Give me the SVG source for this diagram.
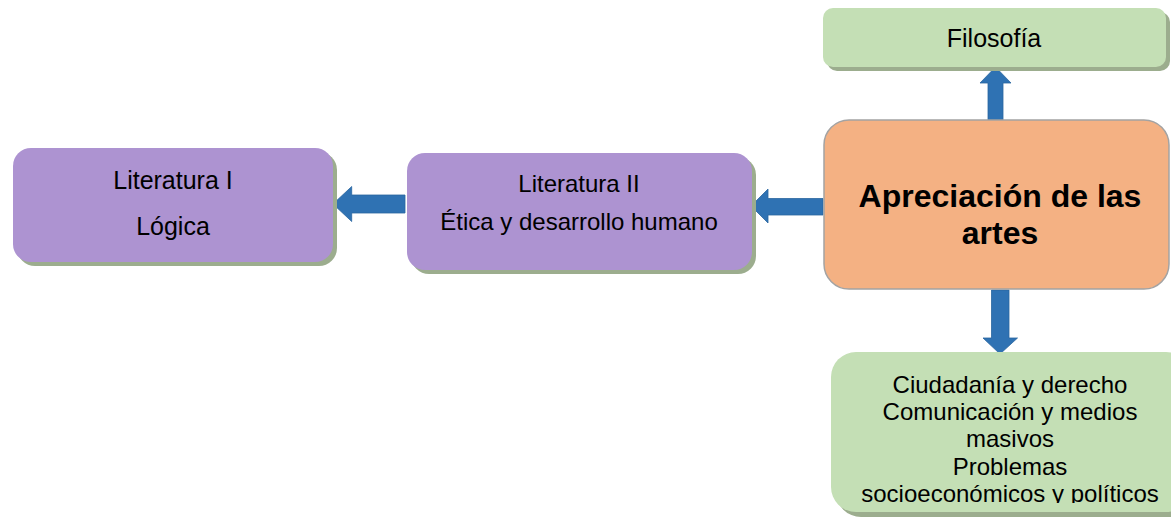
<svg xmlns="http://www.w3.org/2000/svg" width="1171" height="523" viewBox="0 0 1171 523">
<style>
.purple{fill:#AD93D1;}
.green{fill:#C4DFB5;}
.shadow{fill:#9CAD8E;}
.orange{fill:#F4B183;stroke:#A3A3A3;stroke-width:1.5;}
.t{font-family:"Liberation Sans",Arial,sans-serif;fill:#000;text-anchor:middle;}
.arrow{fill:#2F72B3;stroke:#2A66A0;stroke-width:0.8;}
</style>
<defs>
<clipPath id="clipBottom"><rect x="831" y="352" width="340" height="151"/></clipPath>
</defs>
<rect width="1171" height="523" fill="#FFFFFF"/>
<g id="connectors">
<polygon class="arrow" points="405,195 351.7,195 351.7,186.5 333,204 351.7,221.5 351.7,213 405,213"/>
<polygon class="arrow" points="823,198.5 768,198.5 768,189 751,206 768,223 768,215 823,215"/>
<polygon class="arrow" points="991.5,290 1009,290 1009,338 1017.5,338 1000,354 983,338 991.5,338"/>
<polygon class="arrow" points="988,120 1003,120 1003,83 1011,83 995.5,67 980,83 988,83"/>
</g>
<g id="filosofia">
<rect class="shadow" x="827" y="12" width="343" height="59" rx="10"/>
<rect class="green" x="823" y="8" width="343" height="59" rx="10"/>
<text class="t" x="994" y="47" font-size="25">Filosofía</text>
</g>
<g id="literatura1">
<rect class="shadow" x="17" y="152" width="320" height="114" rx="18"/>
<rect class="purple" x="13" y="148" width="320" height="114" rx="18"/>
<text class="t" x="173" y="189" font-size="25">Literatura I</text>
<text class="t" x="173" y="235" font-size="25">Lógica</text>
</g>
<g id="literatura2">
<rect class="shadow" x="411" y="157" width="345" height="117" rx="18"/>
<rect class="purple" x="407" y="153" width="345" height="117" rx="18"/>
<text class="t" x="579" y="191.5" font-size="24">Literatura II</text>
<text class="t" x="579" y="230" font-size="24">Ética y desarrollo humano</text>
</g>
<g id="apreciacion">
<rect class="orange" x="824" y="120" width="345" height="169" rx="25"/>
<text class="t" x="1000" y="206.5" font-size="32" font-weight="bold">Apreciación de las</text>
<text class="t" x="1000" y="243.5" font-size="32" font-weight="bold">artes</text>
</g>
<g id="ciudadania">
<rect class="shadow" x="836" y="357" width="360" height="160" rx="25"/>
<rect class="green" x="831" y="352" width="360" height="160" rx="25"/>
<g clip-path="url(#clipBottom)">
<text class="t" x="1010" y="393" font-size="24">Ciudadanía y derecho</text>
<text class="t" x="1010" y="420" font-size="24">Comunicación y medios</text>
<text class="t" x="1010" y="447" font-size="24">masivos</text>
<text class="t" x="1010" y="474.5" font-size="24">Problemas</text>
<text class="t" x="1010" y="502" font-size="24">socioeconómicos y políticos</text>
</g>
</g>
</svg>
